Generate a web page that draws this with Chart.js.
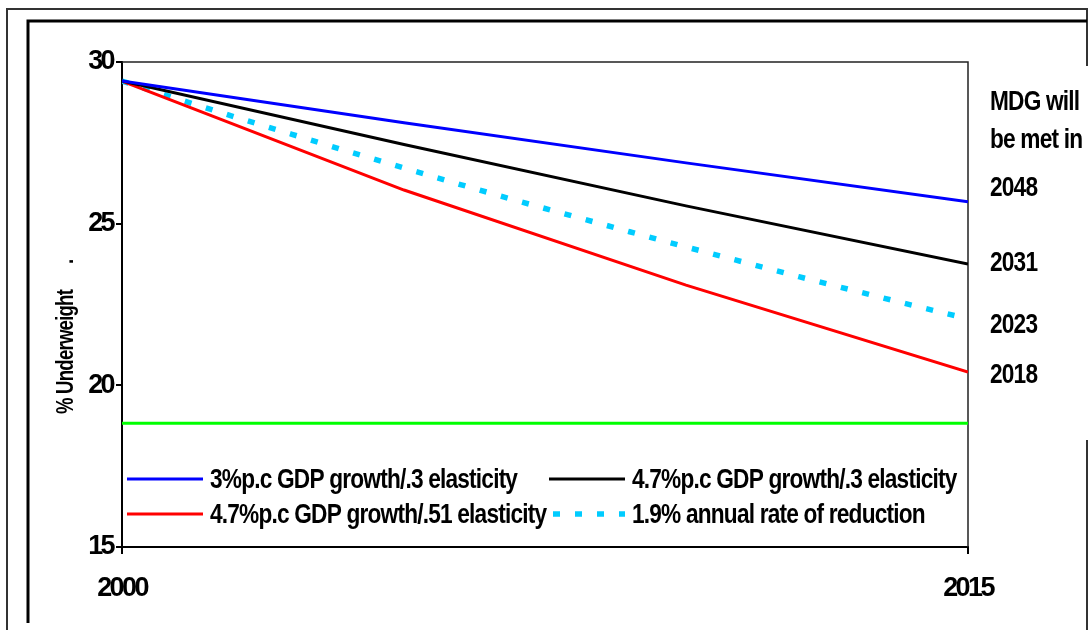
<!DOCTYPE html>
<html>
<head>
<meta charset="utf-8">
<script src="https://cdn.jsdelivr.net/npm/chart.js@4.4.1/dist/chart.umd.min.js"></script>
<style>
  body { margin: 0; background: #fff; }
</style>
</head>
<body>
<canvas id="mdgChart" width="1091" height="630"></canvas>
<script>
// scenario years (5-year steps) and yearly steps for the constant-rate line
const scenarioYears = [2000, 2005, 2010, 2015];
const annualYears = [2000, 2001, 2002, 2003, 2004, 2005, 2006, 2007, 2008, 2009, 2010, 2011, 2012, 2013, 2014, 2015];
const targetYears = [2000, 2015];

// % underweight
const growth3Low = [29.41, 28.12, 26.88, 25.68];
const growth47Low = [29.41, 27.45, 25.55, 23.75];
const growth47High = [29.41, 26.04, 23.10, 20.41];
const annualReduction = [29.41, 28.85, 28.30, 27.77, 27.24, 26.72, 26.21, 25.71, 25.23, 24.75, 24.28, 23.82, 23.36, 22.92, 22.48, 22.06];
const mdgTarget = [18.83, 18.83];

const seriesLabels = [
    '3%p.c GDP growth/.3 elasticity',
    '4.7%p.c GDP growth/.3 elasticity',
    '4.7%p.c GDP growth/.51 elasticity',
    '1.9% annual rate of reduction'
];
const metYears = ['2048', '2031', '2023', '2018'];
const yTitle = '% Underweight';

const TICK_FONT = { family: '"Liberation Sans", Arial, sans-serif', size: 27, weight: 'bold' };
const TEXT_FONT = 'bold 28px "Liberation Sans", Arial, sans-serif';
const SQUASH = 0.81;

function toPoints(xs, ys) {
    return xs.map((x, i) => ({ x: x, y: ys[i] }));
}

function squashText(ctx, text, x, y, font, rotate) {
    ctx.save();
    ctx.font = font || TEXT_FONT;
    ctx.letterSpacing = '-1px';
    ctx.fillStyle = '#000';
    ctx.textBaseline = 'middle';
    ctx.textAlign = 'left';
    ctx.translate(x, y);
    if (rotate) ctx.rotate(rotate);
    ctx.scale(SQUASH, 1);
    ctx.fillText(text, 0, 0);
    ctx.restore();
}

// tighter tick text, like the squeezed original
function tighten(chart) {
    chart.ctx.letterSpacing = '-2.6px';
}

const pagePlugin = {
    id: 'page',
    beforeUpdate: tighten,
    beforeLayout: tighten,
    beforeDraw(chart) {
        tighten(chart);
        const ctx = chart.ctx;
        ctx.save();
        ctx.fillStyle = '#fff';
        ctx.fillRect(0, 0, chart.width, chart.height);
        // outer frame
        ctx.strokeStyle = '#333';
        ctx.lineWidth = 2;
        ctx.beginPath();
        ctx.moveTo(7, 630);
        ctx.lineTo(7, 9);
        ctx.lineTo(1087, 9);
        ctx.lineTo(1087, 630);
        ctx.stroke();
        // inner frame
        ctx.strokeStyle = '#000';
        ctx.lineWidth = 3;
        ctx.beginPath();
        ctx.moveTo(28, 623);
        ctx.lineTo(28, 21);
        ctx.lineTo(1087, 21);
        ctx.stroke();
        ctx.restore();
    },
    beforeDatasetsDraw(chart) {
        const ctx = chart.ctx;
        const a = chart.chartArea;
        ctx.save();
        ctx.strokeStyle = '#222';
        ctx.lineWidth = 1.5;
        ctx.beginPath();
        ctx.moveTo(a.left, a.top);
        ctx.lineTo(a.right, a.top);
        ctx.lineTo(a.right, a.bottom);
        ctx.stroke();
        ctx.restore();
    },
    afterDraw(chart) {
        const ctx = chart.ctx;

        // y axis title
        squashText(ctx, yTitle, 67, 414, 'bold 23px "Liberation Sans", Arial, sans-serif', -Math.PI / 2);
        squashText(ctx, '.', 67, 264, 'bold 23px "Liberation Sans", Arial, sans-serif', -Math.PI / 2);

        // legend inside the plot, 2 x 2
        const lineX = [127, 549];
        const rowY = [479, 514];
        chart.data.datasets.slice(0, 4).forEach((ds, i) => {
            const x = lineX[i % 2];
            const y = rowY[Math.floor(i / 2)];
            ctx.save();
            ctx.strokeStyle = ds.borderColor;
            ctx.lineWidth = ds.borderWidth;
            ctx.setLineDash(ds.borderDash || []);
            ctx.lineCap = 'butt';
            ctx.beginPath();
            ctx.moveTo(x + (ds.borderDash ? 4 : 0), y);
            ctx.lineTo(x + 76, y);
            ctx.stroke();
            ctx.restore();
            squashText(ctx, ds.label, x + 83, y + 1);
        });

        // "MDG will be met in" box on the right
        ctx.save();
        ctx.fillStyle = '#fff';
        ctx.fillRect(984, 66, 107, 374);
        ctx.restore();
        squashText(ctx, 'MDG will', 990, 102);
        squashText(ctx, 'be met in', 990, 140);
        const labelY = [188, 263, 325, 375];
        metYears.forEach((t, i) => squashText(ctx, t, 990, labelY[i]));
    }
};

const ctx = document.getElementById('mdgChart').getContext('2d');
const mdgChart = new Chart(ctx, {
    type: 'line',
    data: {
        datasets: [
            {
                label: seriesLabels[0],
                data: toPoints(scenarioYears, growth3Low),
                borderColor: '#0000ff',
                borderWidth: 3
            },
            {
                label: seriesLabels[1],
                data: toPoints(scenarioYears, growth47Low),
                borderColor: '#000000',
                borderWidth: 3
            },
            {
                label: seriesLabels[2],
                data: toPoints(scenarioYears, growth47High),
                borderColor: '#ff0000',
                borderWidth: 3
            },
            {
                label: seriesLabels[3],
                data: toPoints(annualYears, annualReduction),
                borderColor: '#00ccff',
                borderWidth: 5.5,
                borderDash: [7, 15],
                borderCapStyle: 'butt'
            },
            {
                label: 'MDG target',
                data: toPoints(targetYears, mdgTarget),
                borderColor: '#00ff00',
                borderWidth: 3
            }
        ]
    },
    options: {
        responsive: false,
        animation: false,
        devicePixelRatio: 1,
        layout: { padding: { top: 62, right: 123, left: 0, bottom: 0 } },
        elements: { point: { radius: 0 }, line: { tension: 0 } },
        plugins: { legend: { display: false }, tooltip: { enabled: false } },
        scales: {
            x: {
                type: 'linear',
                min: 2000,
                max: 2015,
                afterFit: s => { s.height = 83; },
                ticks: { stepSize: 15, callback: v => String(v), font: TICK_FONT, color: '#000', padding: 18, maxRotation: 0 },
                grid: { drawOnChartArea: false, color: '#000', lineWidth: 2, tickLength: 7 },
                border: { color: '#000', width: 2 }
            },
            y: {
                min: 15,
                max: 30,
                afterFit: s => { s.width = 122; },
                ticks: { stepSize: 5, callback: v => String(v), font: TICK_FONT, color: '#000', padding: 3 },
                grid: { drawOnChartArea: false, color: '#000', lineWidth: 2, tickLength: 6 },
                border: { color: '#000', width: 2 }
            }
        }
    },
    plugins: [pagePlugin]
});
</script>
</body>
</html>
